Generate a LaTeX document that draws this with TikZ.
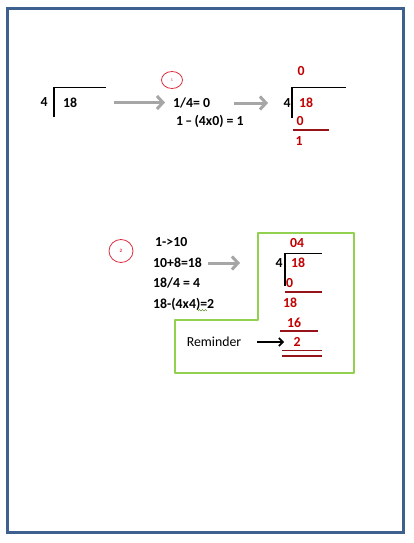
\documentclass[tikz,border=0pt]{standalone}
\usepackage{fontspec}
\setmainfont{Carlito}
\usetikzlibrary{arrows.meta,shapes.geometric}
\definecolor{framec}{RGB}{62,96,143}
\definecolor{wred}{RGB}{192,0,0}
\definecolor{lred}{RGB}{150,20,25}
\definecolor{cred}{RGB}{220,45,60}
\definecolor{agray}{RGB}{166,166,166}
\definecolor{wgreen}{RGB}{146,208,80}
\tikzset{
  txt/.style={font=\bfseries\fontsize{13.8}{15}\selectfont, inner sep=0pt, text=black},
  rtxt/.style={txt, text=wred},
  brk/.style={line width=1.8pt, black},
  rline/.style={line width=1.8pt, lred},
  garrow/.style={line width=3pt, agray, -{Straight Barb[length=6pt,width=13pt]}},
  barrow/.style={line width=1.6pt, black, -{Straight Barb[length=4pt,width=8pt]}},
  stepmark/.style={draw=cred, line width=0.8pt, ellipse, inner sep=0pt},
}
\begin{document}
\begin{tikzpicture}[x=1pt,y=-1pt]
\useasboundingbox (0,0) rectangle (414,543);
\fill[white] (0,0) rectangle (414,543);
\draw[framec, line width=3pt] (7.5,8.5) rectangle (403.5,532.5);

% ---- step 1 ----
\node[txt] (a4) at (44,102.5) {4};
\node[txt] (a18) at (70,102.5) {18};
\coordinate (ab1) at (54,117);
\coordinate (ab2) at (54,87.5);
\coordinate (ab3) at (106,87.5);
\draw[brk] (ab1) -- (ab2) -- (ab3);

\coordinate (g1s) at (114,102.5);
\coordinate (g1e) at (165,102.5);
\draw[garrow] (g1s) -- (g1e);

\node[stepmark, minimum width=21pt, minimum height=17pt] (c1) at (172,80) {};
\node[font=\fontsize{4}{4}\selectfont, text=cred, inner sep=0pt] (c1t) at (c1) {1};

\node[txt, anchor=west] (s1a) at (173,102.5) {1/4= 0};
\node[txt, anchor=west] (s1b) at (176,121) {1\,–\,(4x0) = 1};

\coordinate (g2s) at (234,103);
\coordinate (g2e) at (268,103);
\draw[garrow] (g2s) -- (g2e);

\node[rtxt] (b0) at (301,71.5) {0};
\node[txt] (b4) at (287,103) {4};
\node[rtxt] (b18) at (306,103) {18};
\coordinate (bb1) at (292,117.5);
\coordinate (bb2) at (292,87.5);
\coordinate (bb3) at (346,87.5);
\draw[brk] (bb1) -- (bb2) -- (bb3);
\node[rtxt] (b0b) at (300,121.5) {0};
\coordinate (bl1) at (293,130);
\coordinate (bl2) at (329,130);
\draw[rline] (bl1) -- (bl2);
\node[rtxt] (b1) at (299,141.5) {1};

% ---- step 2 ----
\node[stepmark, minimum width=24pt, minimum height=23pt] (c2) at (121,251) {};
\node[font=\fontsize{5}{5}\selectfont\bfseries, text=cred, inner sep=0pt] (c2t) at (c2) {2};

\node[txt, anchor=west] (t1) at (155,242.5) {1->10};
\node[txt, anchor=west] (t2) at (153,262.5) {10+8=18};
\node[txt, anchor=west] (t3) at (153,283) {18/4 = 4};
\node[txt, anchor=west] (t4) at (153,304) {18-(4x4)=2};
\draw[wgreen!70!black, line width=0.6pt] (198,311) -- (199.5,309.5) -- (201,311) -- (202.5,309.5) -- (204,311) -- (205.5,309.5) -- (207,311);

\coordinate (g3s) at (208,263);
\coordinate (g3e) at (240,263);
\draw[garrow] (g3s) -- (g3e);

\draw[wgreen, line width=2.6pt, line join=round]
  (258,233) -- (354,233) -- (354,373) -- (175,373) -- (175,320) -- (258,320) -- cycle;

\node[rtxt] (d04) at (297,243) {04};
\node[txt] (d4) at (279,263) {4};
\node[rtxt] (d18) at (298,263) {18};
\coordinate (db1) at (285,286);
\coordinate (db2) at (285,253.5);
\coordinate (db3) at (322,253.5);
\draw[brk] (db1) -- (db2) -- (db3);
\node[rtxt] (d0) at (289.5,283) {0};
\coordinate (dl1) at (285,292);
\coordinate (dl2) at (322,292);
\draw[rline] (dl1) -- (dl2);
\node[rtxt] (d18b) at (290,303) {18};
\node[rtxt] (d16) at (294,323) {16};
\coordinate (dl3) at (280,331);
\coordinate (dl4) at (318,331);
\draw[rline] (dl3) -- (dl4);
\node[rtxt] (d2) at (297,342) {2};
\coordinate (dl5) at (282,350.5);
\coordinate (dl6) at (322,350.5);
\coordinate (dl7) at (282,356);
\coordinate (dl8) at (322,356);
\draw[rline] (dl5) -- (dl6);
\draw[rline] (dl7) -- (dl8);

\node[font=\fontsize{13.8}{15}\selectfont, inner sep=0pt] (rem) at (214,342) {Reminder};
\coordinate (ra1) at (257,342);
\coordinate (ra2) at (284,342);
\draw[barrow] (ra1) -- (ra2);
\end{tikzpicture}
\end{document}
